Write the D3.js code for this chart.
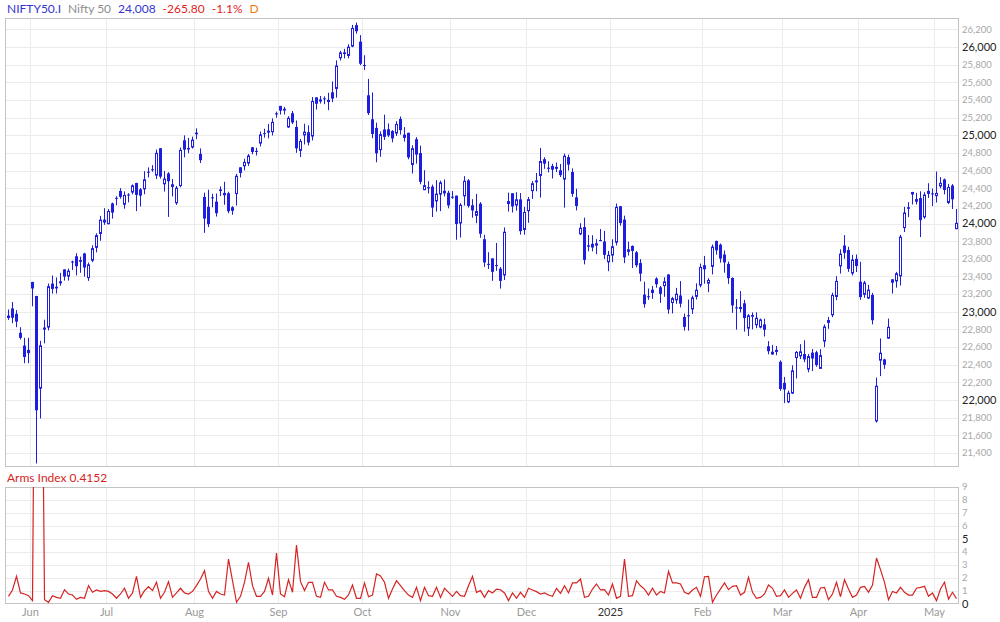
<!DOCTYPE html>
<html><head><meta charset="utf-8">
<script src="https://cdn.jsdelivr.net/npm/d3@7"></script>
<style>body{margin:0;background:#fff}svg{display:block;font-family:Lato,"Noto Sans",sans-serif}</style>
</head><body><svg id="c" width="1000" height="622"></svg>
<script>
const dates = [
"2024-05-24","2024-05-27","2024-05-28","2024-05-29","2024-05-30","2024-05-31",
"2024-06-03","2024-06-04","2024-06-05","2024-06-06","2024-06-07","2024-06-10","2024-06-11","2024-06-12","2024-06-13","2024-06-14","2024-06-18","2024-06-19","2024-06-20","2024-06-21","2024-06-24","2024-06-25","2024-06-26","2024-06-27","2024-06-28",
"2024-07-01","2024-07-02","2024-07-03","2024-07-04","2024-07-05","2024-07-08","2024-07-09","2024-07-10","2024-07-11","2024-07-12","2024-07-15","2024-07-16","2024-07-18","2024-07-19","2024-07-22","2024-07-23","2024-07-24","2024-07-25","2024-07-26","2024-07-29","2024-07-30","2024-07-31",
"2024-08-01","2024-08-02","2024-08-05","2024-08-06","2024-08-07","2024-08-08","2024-08-09","2024-08-12","2024-08-13","2024-08-14","2024-08-16","2024-08-19","2024-08-20","2024-08-21","2024-08-22","2024-08-23","2024-08-26","2024-08-27","2024-08-28","2024-08-29","2024-08-30",
"2024-09-02","2024-09-03","2024-09-04","2024-09-05","2024-09-06","2024-09-09","2024-09-10","2024-09-11","2024-09-12","2024-09-13","2024-09-16","2024-09-17","2024-09-18","2024-09-19","2024-09-20","2024-09-23","2024-09-24","2024-09-25","2024-09-26","2024-09-27","2024-09-30",
"2024-10-01","2024-10-03","2024-10-04","2024-10-07","2024-10-08","2024-10-09","2024-10-10","2024-10-11","2024-10-14","2024-10-15","2024-10-16","2024-10-17","2024-10-18","2024-10-21","2024-10-22","2024-10-23","2024-10-24","2024-10-25","2024-10-28","2024-10-29","2024-10-30","2024-10-31",
"2024-11-01","2024-11-04","2024-11-05","2024-11-06","2024-11-07","2024-11-08","2024-11-11","2024-11-12","2024-11-13","2024-11-14","2024-11-18","2024-11-19","2024-11-21","2024-11-22","2024-11-25","2024-11-26","2024-11-27","2024-11-28","2024-11-29",
"2024-12-02","2024-12-03","2024-12-04","2024-12-05","2024-12-06","2024-12-09","2024-12-10","2024-12-11","2024-12-12","2024-12-13","2024-12-16","2024-12-17","2024-12-18","2024-12-19","2024-12-20","2024-12-23","2024-12-24","2024-12-26","2024-12-27","2024-12-30","2024-12-31",
"2025-01-01","2025-01-02","2025-01-03","2025-01-06","2025-01-07","2025-01-08","2025-01-09","2025-01-10","2025-01-13","2025-01-14","2025-01-15","2025-01-16","2025-01-17","2025-01-20","2025-01-21","2025-01-22","2025-01-23","2025-01-24","2025-01-27","2025-01-28","2025-01-29","2025-01-30","2025-01-31",
"2025-02-01","2025-02-03","2025-02-04","2025-02-05","2025-02-06","2025-02-07","2025-02-10","2025-02-11","2025-02-12","2025-02-13","2025-02-14","2025-02-17","2025-02-18","2025-02-19","2025-02-20","2025-02-21","2025-02-24","2025-02-25","2025-02-27","2025-02-28",
"2025-03-03","2025-03-04","2025-03-05","2025-03-06","2025-03-07","2025-03-10","2025-03-11","2025-03-12","2025-03-13","2025-03-17","2025-03-18","2025-03-19","2025-03-20","2025-03-21","2025-03-24","2025-03-25","2025-03-26","2025-03-27","2025-03-28",
"2025-04-01","2025-04-02","2025-04-03","2025-04-04","2025-04-07","2025-04-08","2025-04-09","2025-04-11","2025-04-15","2025-04-16","2025-04-17","2025-04-21","2025-04-22","2025-04-23","2025-04-24","2025-04-25","2025-04-28","2025-04-29","2025-04-30",
"2025-05-02","2025-05-05","2025-05-06","2025-05-07","2025-05-08","2025-05-09"];

const opens = [22930,23038,22977,22762,22617,22568,
23338,23179,22128,22798,22821,23319,23283,23345,23480,23399,23570,23629,23586,23661,23382,23578,23724,23882,24044,
23992,24228,24291,24369,24213,24329,24351,24459,24387,24388,24577,24615,24543,24853,24445,24568,24445,24230,24424,24943,24839,24861,
25030,24789,24302,24189,24289,24248,24386,24320,24343,24185,24334,24637,24649,24680,24864,24811,24906,25024,25030,25035,25249,
25333,25300,25089,25250,25094,24823,24999,25035,24986,25430,25406,25416,25402,25487,25525,25873,25921,25899,26005,26248,26061,
25788,25453,25181,25084,24832,25066,25068,25049,25019,25185,25008,25028,24664,24956,24798,24378,24412,24418,24251,24328,24371,24349,
24302,24316,24000,24308,24489,24207,24087,24225,23822,23543,23605,23529,23488,23412,24254,24343,24204,24274,23927,
24140,24367,24489,24539,24729,24633,24652,24620,24604,24498,24753,24584,24297,23877,23960,23738,23770,23776,23801,23796,23561,
23637,23783,24196,24045,23679,23746,23674,23552,23195,23165,23250,23377,23277,23291,23422,23099,23129,23184,22941,22960,23027,23169,23297,
23528,23319,23509,23802,23761,23649,23543,23383,23050,23055,23096,22809,22963,22847,22821,22857,22609,22516,22568,22433,
22194,21974,22073,22476,22495,22521,22345,22537,22541,22353,22662,22874,22960,23168,23515,23751,23700,23433,23600,
23341,23192,23150,23191,21758,22446,22460,22695,23368,23344,23401,23949,24185,24357,24277,24289,24070,24370,24342,
24311,24420,24500,24233,24431,23936];

const highs = [23026,23110,23019,22825,22705,22705,
23339,23180,22671,22910,23320,23411,23389,23441,23481,23490,23579,23664,23625,23668,23558,23754,23889,24087,24174,
24164,24237,24309,24401,24364,24344,24443,24462,24402,24593,24636,24662,24838,24855,24595,24582,24505,24426,24861,24999,24971,24985,
25078,24851,24350,24383,24337,24340,24420,24473,24360,24196,24563,24638,24734,24787,24867,24858,25043,25074,25129,25192,25268,
25333,25321,25216,25275,25168,24958,25130,25113,25433,25430,25445,25441,25482,25611,25849,25957,25979,26032,26251,26277,26135,
25907,25639,25485,25143,25044,25234,25134,25058,25159,25213,25093,25029,24886,24979,24882,24604,24480,24441,24492,24485,24499,24372,
24368,24316,24230,24537,24503,24276,24336,24242,23873,23675,23606,23780,23507,23956,24351,24343,24354,24345,24188,
24301,24481,24573,24857,24751,24705,24677,24691,24675,24792,24781,24625,24394,24004,24066,23870,23867,23823,23938,23916,23690,
23822,24226,24196,24089,23795,23752,23689,23596,23341,23264,23293,23391,23292,23391,23426,23169,23271,23348,22980,23138,23183,23322,23546,
23633,23381,23762,23808,23773,23694,23568,23390,23144,23235,23134,22975,22992,22994,22923,22921,22668,22625,22613,22450,
22262,22106,22394,22556,22633,22677,22522,22578,22558,22577,22857,22941,23216,23403,23708,23869,23736,23646,23649,
23565,23350,23306,23214,22255,22698,22468,22923,23368,23452,23872,24189,24242,24359,24347,24365,24355,24457,24396,
24589,24526,24510,24449,24447,24164];

const lows = [22908,22871,22825,22685,22417,22417,
23062,21281,21791,22642,22789,23206,23207,23295,23354,23353,23474,23412,23442,23398,23350,23562,23673,23805,23985,
23992,24056,24207,24281,24168,24240,24331,24141,24193,24332,24522,24587,24505,24509,24363,24075,24307,24211,24410,24750,24798,24849,
24956,24686,23894,23960,24184,24079,24311,24212,24116,24099,24204,24522,24602,24654,24784,24771,24874,24973,24964,24998,25199,
25235,25235,25084,25127,24801,24753,24896,24885,24941,25292,25360,25352,25285,25376,25426,25847,25871,25872,25998,26151,25794,
25739,25230,24967,24694,24756,24947,24980,24920,24992,25008,24929,24728,24567,24679,24445,24378,24341,24074,24135,24141,24307,24172,
24280,23816,23842,24204,24179,24066,24004,23839,23509,23484,23350,23464,23263,23359,24135,24125,24146,23874,23873,
24008,24280,24366,24295,24620,24580,24510,24583,24527,24180,24601,24303,24149,23870,23537,23685,23685,23653,23800,23599,23460,
23562,23751,23976,23551,23637,23496,23503,23344,23047,23135,23146,23273,23100,23170,22977,22981,23090,23050,22787,22786,22976,23139,23277,
23318,23222,23423,23647,23556,23443,23316,22987,22798,22993,22775,22725,22801,22814,22812,22720,22518,22513,22508,22104,
21965,21965,22068,22245,22464,22429,22314,22329,22377,22353,22599,22807,22939,23132,23433,23601,23452,23412,23451,
23136,23158,23146,22857,21744,22271,22353,22695,23207,23273,23298,23903,24073,24216,24216,23847,24054,24290,24198,
24238,24400,24331,24220,24164,23936];

const closes = [22957,22932,22888,22704,22488,22531,
23264,21884,22620,22821,23290,23259,23265,23323,23399,23466,23558,23516,23567,23501,23538,23721,23869,24044,24011,
24142,24124,24286,24302,24324,24321,24433,24324,24316,24502,24587,24613,24801,24531,24509,24479,24414,24406,24835,24837,24857,24951,
25011,24718,24056,23993,24297,24117,24368,24347,24139,24144,24541,24573,24698,24771,24811,24823,25010,25017,25052,25152,25236,
25279,25280,25198,25145,24852,24936,25041,24918,25389,25357,25383,25419,25377,25416,25791,25939,25940,26004,26216,26179,25811,
25797,25251,25015,24796,25013,24982,24998,24964,25128,25058,24971,24750,24854,24781,24472,24435,24399,24181,24339,24467,24341,24205,
24304,23995,24213,24484,24199,24148,24141,23884,23559,23533,23453,23518,23350,23907,24221,24194,24275,23914,24131,
24276,24457,24467,24708,24678,24620,24610,24642,24549,24768,24668,24336,24199,23952,23588,23753,23728,23750,23813,23645,23645,
23743,24189,24005,23616,23708,23689,23527,23432,23086,23176,23213,23312,23203,23345,23025,23155,23205,23092,22829,22957,23163,23250,23508,
23482,23361,23739,23696,23603,23560,23381,23072,23046,23031,22929,22960,22945,22933,22913,22796,22553,22547,22545,22125,
22119,22083,22337,22545,22552,22460,22498,22470,22397,22509,22834,22907,23191,23350,23659,23668,23486,23592,23519,
23166,23332,23251,22904,22162,22536,22399,22829,23329,23437,23852,24125,24167,24329,24247,24039,24328,24336,24334,
24347,24461,24380,24414,24274,24008];

const arms = [0.59,1.08,2.13,0.85,0.77,0.64,0.26,40,35,0.33,
0.13,0.64,0.51,0.44,1.10,0.77,0.69,0.36,0.51,0.44,
1.41,0.90,1.08,0.97,1.03,0.97,0.77,0.44,0.77,1.21,
0.44,0.85,2.13,0.51,1.03,1.33,1.03,1.67,0.44,0.90,
1.72,0.51,0.85,1.21,0.85,0.77,0.97,1.41,1.92,2.56,
0.97,0.44,0.97,0.77,0.69,3.46,1.79,0.13,0.59,1.67,
3.21,1.41,0.59,0.59,0.97,1.97,0.69,3.92,0.77,0.56,
1.87,0.90,4.54,1.72,1.03,1.67,1.67,0.59,0.51,1.67,
1.08,1.08,0.59,0.51,0.36,0.69,1.46,0.44,0.44,1.62,
0.56,0.69,2.31,2.15,1.67,0.44,1.15,1.79,1.41,1.03,
0.69,0.51,1.28,0.26,1.28,0.64,0.59,1.28,0.51,1.21,
0.90,0.59,0.97,0.64,0.59,1.41,2.13,0.90,1.03,0.51,
1.03,0.85,1.15,1.10,0.85,0.26,0.85,0.44,0.90,0.51,
1.21,1.08,0.95,0.77,0.85,0.69,0.59,1.21,0.82,1.41,
0.85,1.62,1.62,1.92,0.51,0.59,1.15,1.54,1.08,1.10,
0.69,1.54,0.44,0.59,3.46,0.59,0.64,1.79,1.40,1.15,
0.69,1.21,0.69,0.97,0.85,2.51,1.62,1.62,1.54,0.90,
0.77,1.08,1.28,0.59,2.10,2.13,0.13,0.69,1.15,1.62,
1.10,1.36,1.41,0.69,0.90,2.05,0.90,0.44,0.51,0.77,
1.46,1.21,0.59,0.64,1.08,0.51,0.82,1.08,0.44,1.28,
1.87,0.51,0.51,1.23,1.28,0.33,0.77,1.67,0.56,1.87,
1.15,0.51,0.69,1.28,1.36,0.90,1.46,3.54,2.64,1.67,
0.33,0.97,0.85,1.28,0.90,0.69,0.69,1.21,1.28,1.36,
0.59,0.85,0.26,1.15,1.67,0.38,0.90,0.4152];

const monthLabels = ["2025","Feb","Mar","Apr","May","Jun","Jul","Aug","Sep","Oct","Nov","Dec"];
const priceMajor = [22000,23000,24000,25000,26000];
const priceTicks = [21400,21600,21800,22000,22200,22400,22600,22800,23000,23200,23400,23600,23800,24000,24200,24400,24600,24800,25000,25200,25400,25600,25800,26000,26200];
const armsTicks = [0,1,2,3,4,5,6,7,8,9];
const armsMajor = [0,5];

const svg = d3.select("#c");
const L = 5, R = 959, T1 = 18, B1 = 467, T2 = 487, B2 = 604;
const blue = "#1e1ee0", grid = "#ebebeb", border = "#c4c4c4";

const x = d3.scaleLinear().domain([0, dates.length - 1]).range([8.5, 956.5]);
const y = d3.scaleLinear().domain([21241, 26329]).range([B1, T1]);
const ya = d3.scaleLinear().domain([0, 9]).range([B2, T2]);
const fmt = d3.format(",");

const months = [];
dates.forEach((d, i) => {
  if (i > 0 && d.slice(0, 7) !== dates[i - 1].slice(0, 7)) {
    months.push({ i, m: +d.slice(5, 7) - 1 });
  }
});

function panelGrid(top, bottom, ys) {
  const g = svg.append("g");
  g.selectAll(".h").data(ys).join("line")
    .attr("x1", L).attr("x2", R)
    .attr("y1", d => Math.round(d) + 0.5).attr("y2", d => Math.round(d) + 0.5)
    .attr("stroke", grid).attr("stroke-width", 1);
  g.selectAll(".v").data(months).join("line")
    .attr("x1", d => x(d.i) - 2).attr("x2", d => x(d.i) - 2)
    .attr("y1", top).attr("y2", bottom)
    .attr("stroke", grid).attr("stroke-width", 1);
  g.append("rect").attr("x", L + 0.5).attr("y", top + 0.5)
    .attr("width", R - L - 1).attr("height", bottom - top - 1)
    .attr("fill", "none").attr("stroke", border);
}

panelGrid(T1, B1, priceTicks.map(y));
panelGrid(T2, B2, armsTicks.slice(1, 9).map(ya));

svg.append("g").selectAll("text").data(priceTicks).join("text")
  .attr("x", 962).attr("y", d => y(d)).attr("dy", "0.35em")
  .attr("font-size", d => priceMajor.includes(d) ? 11 : 9.5)
  .attr("fill", d => priceMajor.includes(d) ? "#222" : "#a8a8a8")
  .text(d => fmt(d));

svg.append("g").selectAll("text").data(armsTicks).join("text")
  .attr("x", 962).attr("y", d => ya(d)).attr("dy", "0.35em")
  .attr("font-size", d => armsMajor.includes(d) ? 11 : 9.5)
  .attr("fill", d => armsMajor.includes(d) ? "#222" : "#a8a8a8")
  .text(d => d);

svg.append("g").selectAll("text").data(months).join("text")
  .attr("x", d => x(d.i) - 2).attr("y", 616).attr("text-anchor", "middle")
  .attr("font-size", 11)
  .attr("fill", d => d.m === 0 ? "#333" : "#999")
  .text(d => monthLabels[d.m]);

const cg = svg.append("g");
dates.forEach((d, i) => {
  const cx = x(i), o = opens[i], c = closes[i];
  const yt = y(Math.max(o, c)), yb = y(Math.min(o, c));
  cg.append("line").attr("x1", cx).attr("x2", cx)
    .attr("y1", y(highs[i])).attr("y2", y(lows[i]))
    .attr("stroke", blue).attr("stroke-width", 1);
  const h = yb - yt;
  if (c < o || h < 2) {
    cg.append("rect").attr("x", cx - 1.5).attr("width", 3)
      .attr("y", yt).attr("height", Math.max(1, h)).attr("fill", blue);
  } else {
    cg.append("rect").attr("x", cx - 1).attr("width", 2)
      .attr("y", yt + 0.5).attr("height", h - 1)
      .attr("fill", "#fff").attr("stroke", blue).attr("stroke-width", 1);
  }
});

svg.append("clipPath").attr("id", "clipA").append("rect")
  .attr("x", L).attr("y", T2).attr("width", R - L).attr("height", B2 - T2);
svg.append("path").datum(arms)
  .attr("clip-path", "url(#clipA)")
  .attr("d", d3.line().x((d, i) => x(i)).y(d => ya(d)))
  .attr("fill", "none").attr("stroke", "#d62424").attr("stroke-width", 1.2);

const hdr = svg.append("text").attr("x", 7).attr("y", 13).attr("font-size", 12);
[["NIFTY50.I", "#3434d4"], ["Nifty 50", "#8c8c8c"], ["24,008", "#3434d4"], ["-265.80", "#e02424"], ["-1.1%", "#e02424"], ["D", "#f07a14"]]
  .forEach(([t, col], k) => hdr.append("tspan").attr("dx", k ? 7 : 0).attr("fill", col).text(t));

svg.append("text").attr("x", 7).attr("y", 482).attr("font-size", 12)
  .attr("fill", "#d62424").text("Arms Index " + arms[arms.length - 1]);
</script></body></html>
